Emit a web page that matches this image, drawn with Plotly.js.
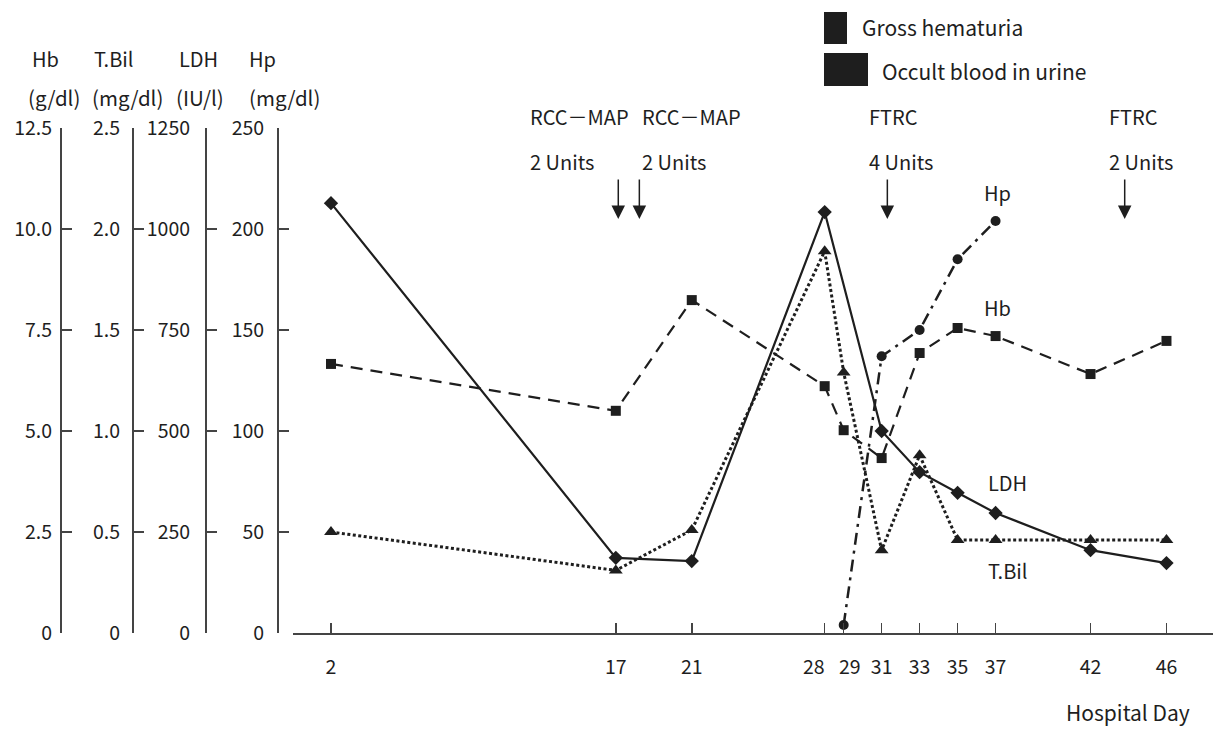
<!DOCTYPE html>
<html>
<head>
<meta charset="utf-8">
<script src="https://cdn.plot.ly/plotly-3.0.1.min.js"></script>
<style>html,body{margin:0;padding:0;background:#fff;}#chart{width:1213px;height:729px;}</style>
</head>
<body>
<div id="chart"></div>
<script>
// ---- data ----
const dayTicks = [2, 17, 21, 28, 29, 31, 33, 35, 37, 42, 46];
// 28 and 29 are drawn as nudged annotations (as in the reference) so they do not collide
const dayTickText = ['2', '17', '21', '', '', '31', '33', '35', '37', '42', '46'];
const nudgedDays = [{day: 28, text: '28', shift: -11}, {day: 29, text: '29', shift: 6}];

const hbDays = [2, 17, 21, 28, 29, 31, 33, 35, 37, 42, 46];
const hbValues = [6.66, 5.50, 8.24, 6.11, 5.02, 4.33, 6.93, 7.55, 7.35, 6.41, 7.23];

const tbilDays = [2, 17, 21, 28, 29, 31, 33, 35, 37, 42, 46];
const tbilValues = [0.50, 0.31, 0.51, 1.89, 1.29, 0.41, 0.88, 0.46, 0.46, 0.46, 0.46];

const ldhDays = [2, 17, 21, 28, 31, 33, 35, 37, 42, 46];
const ldhValues = [1064, 186, 178, 1042, 500, 398, 347, 297, 205, 173];

const hpDays = [29, 31, 33, 35, 37];
const hpValues = [4, 137, 150, 185, 204];

const hbTicks = [0, 2.5, 5, 7.5, 10, 12.5];
const hbTickText = ['0', '2.5', '5.0', '7.5', '10.0', '12.5'];
const tbilTicks = [0, 0.5, 1, 1.5, 2, 2.5];
const tbilTickText = ['0', '0.5', '1.0', '1.5', '2.0', '2.5'];
const ldhTicks = [0, 250, 500, 750, 1000, 1250];
const hpTicks = [0, 50, 100, 150, 200, 250];

const transfusions = [
  {day: 17.13, product: 'RCC－MAP', units: '2 Units', labelDay: 12.4},
  {day: 18.24, product: 'RCC－MAP', units: '2 Units', labelDay: 18.3},
  {day: 31.3, product: 'FTRC', units: '4 Units', labelDay: 30.25},
  {day: 43.8, product: 'FTRC', units: '2 Units', labelDay: 42.88}
];

// ---- layout helpers (pixel -> paper) ----
const L = 60, T = 128, W = 1153, H = 505;
const px = x => (x - L) / W;
const py = y => (T + H - y) / H;

const FONT = '"Noto Sans CJK JP", "Noto Sans", sans-serif';
const AX = '#444';
const INK = '#1e1e1e';

function yAxis(range, tickvals, ticktext, pos, overlay, standoff) {
  const a = {
    range: range, tickvals: tickvals, ticktext: ticktext, tickmode: 'array',
    anchor: 'free', position: pos, side: 'left',
    showline: true, linecolor: AX, linewidth: 1.5,
    ticks: 'inside', ticklen: 10, tickwidth: 1.5, tickcolor: AX,
    showgrid: false, zeroline: false, fixedrange: true,
    ticklabelstandoff: standoff,
    tickfont: {family: FONT, size: 19.5, color: INK}
  };
  if (overlay) a.overlaying = 'y';
  return a;
}

const traces = [
  {x: hbDays, y: hbValues, yaxis: 'y', mode: 'lines+markers', name: 'Hb',
   line: {color: INK, width: 2.2, dash: '12px,8px'},
   marker: {symbol: 'square', size: 10, color: INK}},
  {x: tbilDays, y: tbilValues, yaxis: 'y2', mode: 'lines+markers', name: 'T.Bil',
   line: {color: INK, width: 3, dash: '3px,2.5px'},
   marker: {symbol: 'triangle-up', size: 12, color: INK}},
  {x: ldhDays, y: ldhValues, yaxis: 'y3', mode: 'lines+markers', name: 'LDH',
   line: {color: INK, width: 2.2},
   marker: {symbol: 'diamond', size: 11, color: INK}},
  {x: hpDays, y: hpValues, yaxis: 'y4', mode: 'lines+markers', name: 'Hp',
   line: {color: INK, width: 2.5, dash: '12px,6px,3px,6px'},
   marker: {symbol: 'circle', size: 10, color: INK}}
];

const annotations = [];
function txt(text, x, y, xanchor, size, yanchor) {
  annotations.push({text: text, xref: 'paper', yref: 'paper', x: px(x), y: py(y),
    xanchor: xanchor || 'center', yanchor: yanchor || 'middle', showarrow: false,
    font: {family: FONT, size: size || 20, color: INK}});
}
// axis titles
txt('Hb', 45, 58); txt('T.Bil', 113, 58); txt('LDH', 198, 58); txt('Hp', 262, 58);
txt('(g/dl)', 54, 97, 'center', 20.5); txt('(mg/dl)', 127, 97, 'center', 20.5);
txt('(IU/l)', 200, 97, 'center', 20.5); txt('(mg/dl)', 284, 97, 'center', 20.5);
// series labels
txt('Hp', 997, 192); txt('Hb', 997, 307); txt('LDH', 1007, 482); txt('T.Bil', 1007, 570);
// x title
txt('Hospital Day', 1128, 729, 'center', 21, 'bottom');
// urine legend
txt('Gross hematuria', 860, 27, 'left', 21);
txt('Occult blood in urine', 880, 71, 'left', 21);

// nudged x tick labels
nudgedDays.forEach(d => {
  annotations.push({text: d.text, xref: 'x', yref: 'paper', x: d.day, y: py(665),
    xshift: d.shift, xanchor: 'center', yanchor: 'middle', showarrow: false,
    font: {family: FONT, size: 19.5, color: INK}});
});

// transfusions
transfusions.forEach(t => {
  annotations.push({text: t.product, xref: 'x', yref: 'paper', x: t.labelDay, y: py(117),
    xanchor: 'left', yanchor: 'middle', showarrow: false,
    font: {family: FONT, size: 20, color: INK}});
  annotations.push({text: t.units, xref: 'x', yref: 'paper', x: t.labelDay, y: py(162),
    xanchor: 'left', yanchor: 'middle', showarrow: false,
    font: {family: FONT, size: 20, color: INK}});
  annotations.push({text: '', xref: 'x', yref: 'paper', x: t.day, y: py(219),
    showarrow: true, ax: 0, ay: -41, arrowhead: 2, arrowsize: 1.8, arrowwidth: 1.5,
    arrowcolor: INK, standoff: 0});
});

const shapes = [
  {type: 'rect', xref: 'paper', yref: 'paper', x0: px(824), x1: px(847), y0: py(12), y1: py(44),
   fillcolor: INK, line: {width: 0}},
  {type: 'rect', xref: 'paper', yref: 'paper', x0: px(824), x1: px(868), y0: py(53), y1: py(86),
   fillcolor: INK, line: {width: 0}}
];

const layout = {
  width: 1213, height: 729,
  margin: {l: L, r: 0, t: T, b: 96},
  paper_bgcolor: '#fff', plot_bgcolor: '#fff',
  showlegend: false,
  font: {family: FONT, size: 20, color: INK},
  xaxis: {
    domain: [px(293), 1], range: [0, 48.45],
    tickvals: dayTicks, ticktext: dayTickText, tickmode: 'array', tickangle: 0,
    showline: true, linecolor: AX, linewidth: 1.5,
    ticks: 'inside', ticklen: 10, tickwidth: 1.5, tickcolor: AX,
    showgrid: false, zeroline: false, fixedrange: true,
    ticklabelstandoff: 16,
    tickfont: {family: FONT, size: 19.5, color: INK}
  },
  yaxis: yAxis([0, 12.5], hbTicks, hbTickText, px(60), false, 4),
  yaxis2: yAxis([0, 2.5], tbilTicks, tbilTickText, px(132), true, 8),
  yaxis3: yAxis([0, 1250], ldhTicks, ldhTicks.map(String), px(205), true, 11),
  yaxis4: yAxis([0, 250], hpTicks, hpTicks.map(String), px(277), true, 9),
  annotations: annotations,
  shapes: shapes
};

Plotly.newPlot('chart', traces, layout, {displayModeBar: false, staticPlot: true});
</script>
</body>
</html>
